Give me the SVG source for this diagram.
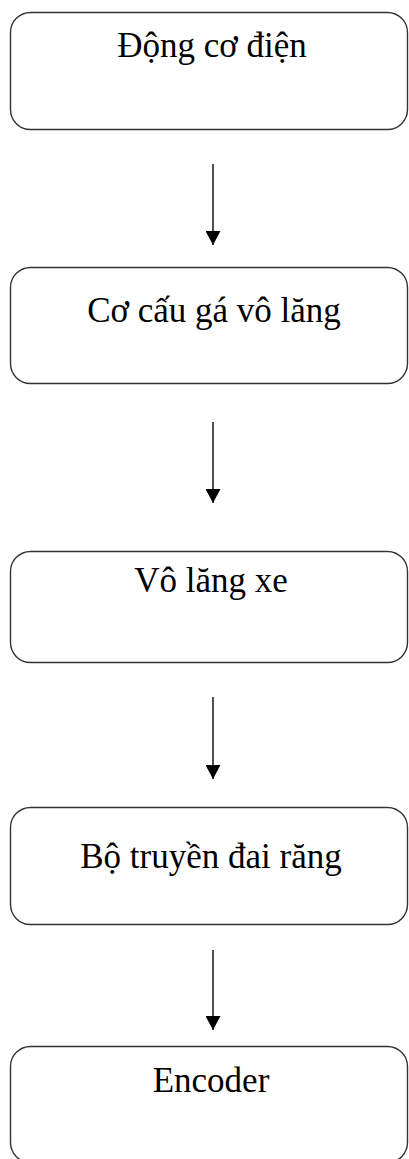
<svg xmlns="http://www.w3.org/2000/svg" width="409" height="1159" viewBox="0 0 409 1159">
  <defs>
    <marker id="arrowhead" viewBox="0 0 14 15" refX="14" refY="7.5" markerWidth="14" markerHeight="15" markerUnits="userSpaceOnUse" orient="auto">
      <path d="M0,0 L14,7.5 L0,15 Z" fill="#000"/>
    </marker>
  </defs>
  <style>
    .box { fill: #fff; stroke: #333; stroke-width: 1.4; }
    .label { font-family: "Liberation Serif", "Times New Roman", serif; font-size: 35px; fill: #000; text-anchor: middle; }
    .link { stroke: #222; stroke-width: 1.6; fill: none; marker-end: url(#arrowhead); }
  </style>
  <rect width="409" height="1159" fill="#fff"/>

  <g id="node-dong-co-dien">
    <rect class="box" x="10.5" y="12.5" width="397" height="117" rx="20"/>
    <text class="label" x="212" y="57">Động cơ điện</text>
  </g>

  <g id="node-co-cau-ga-vo-lang">
    <rect class="box" x="10.5" y="267.5" width="397" height="116" rx="20"/>
    <text class="label" x="214" y="322">Cơ cấu gá vô lăng</text>
  </g>

  <g id="node-vo-lang-xe">
    <rect class="box" x="10.5" y="551.5" width="397" height="111" rx="20"/>
    <text class="label" x="211" y="592">Vô lăng xe</text>
  </g>

  <g id="node-bo-truyen-dai-rang">
    <rect class="box" x="10.5" y="807.5" width="397" height="117" rx="20"/>
    <text class="label" x="211" y="868">Bộ truyền đai răng</text>
  </g>

  <g id="node-encoder">
    <rect class="box" x="10.5" y="1046.5" width="397" height="116" rx="20"/>
    <text class="label" x="211" y="1092">Encoder</text>
  </g>

  <g id="connectors">
    <line class="link" x1="213" y1="164" x2="213" y2="245"/>
    <line class="link" x1="213" y1="422" x2="213" y2="503"/>
    <line class="link" x1="213" y1="697" x2="213" y2="779"/>
    <line class="link" x1="213" y1="950" x2="213" y2="1030"/>
  </g>
</svg>
